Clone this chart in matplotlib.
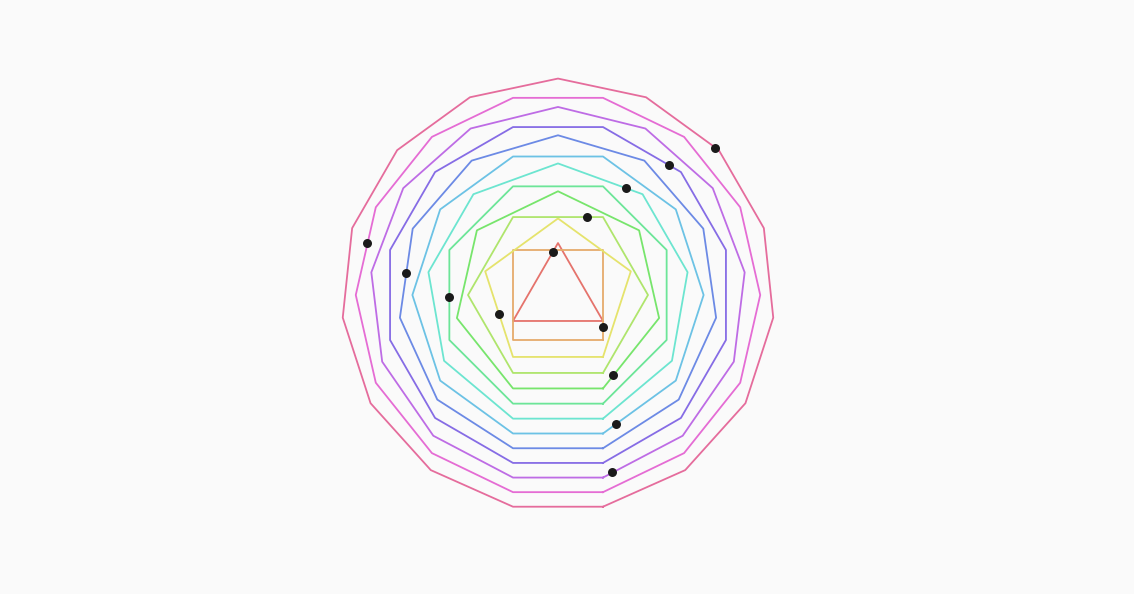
import numpy as np
import matplotlib
matplotlib.use("Agg")
import matplotlib.pyplot as plt
import colorsys

# Data: number of sides of each polygon (equal side length = 1)
sides = [3, 4, 5, 6, 7, 8, 9, 10, 11, 12, 13, 14, 15]
# One marked point on each polygon (data units, center at origin)
point_x = [-0.059, 0.500, -0.656, 0.319, 0.611, -1.211, 0.759, 0.644, -1.689, 1.237, 0.600, -2.122, 1.748]
point_y = [0.478, -0.356, -0.207, 0.867, -0.889, -0.022, 1.185, -1.433, 0.244, 1.441, -1.967, 0.578, 1.637]

W, H, DPI = 1134, 594, 100
fig = plt.figure(figsize=(W / DPI, H / DPI), dpi=DPI, facecolor="#fafafa")
ax = fig.add_axes([0, 0, 1, 1])
ax.set_facecolor("#fafafa")

scale = 90.0  # px per unit
cx, cy = 558, 295
ax.set_xlim(-cx / scale, (W - cx) / scale)
ax.set_ylim(-(H - cy) / scale, cy / scale)
ax.set_aspect("equal")
ax.axis("off")

n_poly = len(sides)
for i, n in enumerate(sides):
    h = (0.01 + i / n_poly) % 1.0
    col = colorsys.hls_to_rgb(h, 0.66, 0.7)
    R = 1.0 / (2 * np.sin(np.pi / n))
    ang = np.deg2rad(-90 + 180.0 / n + np.arange(n + 1) * 360.0 / n)
    ax.plot(R * np.cos(ang), R * np.sin(ang), color=col, lw=1.3, zorder=2)

ax.scatter(point_x, point_y, s=42, color="#1a1a1a", zorder=3, linewidths=0)

fig.savefig("out.png", dpi=DPI, facecolor=fig.get_facecolor())
